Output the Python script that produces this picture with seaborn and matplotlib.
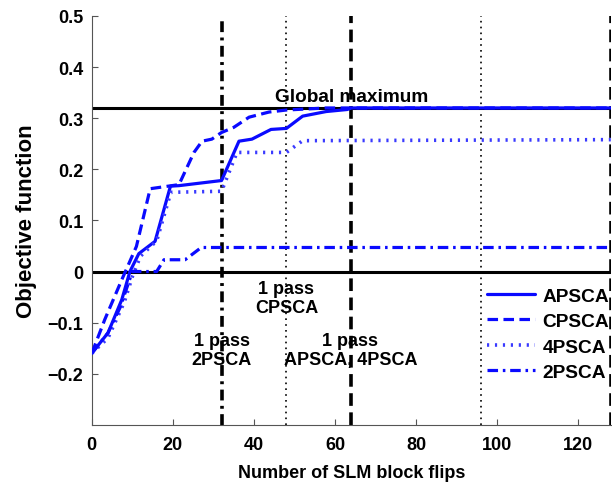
import matplotlib
matplotlib.use('Agg')

import pandas as pd
import matplotlib.pyplot as plt
import seaborn as sns

# Curves
ap_x = [0, 4, 7.4, 9.4, 11.6, 15.6, 19.4, 21.5, 32, 36.3, 39.5, 44.2, 48, 52, 57.8, 63, 64, 128]
ap_y = [-0.16, -0.12, -0.055, 0.0, 0.035, 0.059, 0.167, 0.168, 0.178, 0.255, 0.259, 0.278, 0.28, 0.304, 0.313, 0.317, 0.32, 0.32]

cp_x = [0, 3.2, 7.4, 11, 14.4, 21.5, 25.2, 27.2, 29.6, 32, 35, 38.8, 43.7, 48, 57.8, 128]
cp_y = [-0.16, -0.094, -0.016, 0.049, 0.162, 0.17, 0.233, 0.255, 0.259, 0.272, 0.282, 0.302, 0.312, 0.316, 0.32, 0.32]

p4_x = [0, 4, 8, 10, 12, 16, 19.5, 32, 35.8, 48, 52, 128]
p4_y = [-0.16, -0.13, -0.06, -0.01, 0.03, 0.06, 0.155, 0.157, 0.233, 0.233, 0.256, 0.258]

p2_x = [0, 4, 7, 10, 16, 17.8, 23, 27, 128]
p2_y = [-0.16, -0.12, -0.07, 0.0, 0.0, 0.023, 0.023, 0.047, 0.047]

global_max = 0.32
pass_marks = [32, 48, 64, 96, 128]

sns.set_style('ticks')
plt.rcParams['font.family'] = ['Liberation Sans', 'DejaVu Sans']
plt.rcParams['font.weight'] = 'bold'
plt.rcParams['text.color'] = 'black'
plt.rcParams['axes.labelcolor'] = 'black'
plt.rcParams['xtick.labelcolor'] = 'black'
plt.rcParams['ytick.labelcolor'] = 'black'

fig, ax = plt.subplots(figsize=(6.12, 4.85), dpi=100)
fig.subplots_adjust(left=0.150, right=0.998, bottom=0.122, top=0.965)

blue = '#0a0aff'
# Reference lines
ax.axhline(0, color='black', lw=2.2, zorder=1)
ax.axhline(global_max, color='black', lw=2.2, zorder=1)
vstyles = [((0, (3, 1.5, 0.8, 1.5)), 2.6), ((0, (1, 2.5)), 1.2), ((0, (3.5, 1.8)), 2.6),
           ((0, (1, 2.5)), 1.2), ((0, (3.5, 1.8)), 2.6)]
for xv, (ls, lw) in zip(pass_marks, vstyles):
    ax.axvline(xv, color='black', ls=ls, lw=lw, zorder=1)

sns.lineplot(x=ap_x, y=ap_y, ax=ax, color=blue, lw=2.3, label='APSCA', zorder=3)
sns.lineplot(x=cp_x, y=cp_y, ax=ax, color=blue, lw=2.3, label='CPSCA', zorder=3,
             linestyle=(0, (3.3, 1.7)))
sns.lineplot(x=p4_x, y=p4_y, ax=ax, color='#3a3aff', lw=2.6, label='4PSCA', zorder=3,
             linestyle=(0, (0.6, 1.6)))
sns.lineplot(x=p2_x, y=p2_y, ax=ax, color=blue, lw=2.3, label='2PSCA', zorder=3,
             linestyle=(0, (3.3, 1.5, 0.8, 1.5)))
for ln in ax.get_lines()[-4:]:
    ln.set_dash_capstyle('butt')

ax.set_xlim(0, 128)
ax.set_ylim(-0.3, 0.5)
ax.set_xticks([0, 20, 40, 60, 80, 100, 120])
ax.set_yticks([-0.2, -0.1, 0, 0.1, 0.2, 0.3, 0.4, 0.5])
ax.set_yticklabels(['\u22120.2', '\u22120.1', '0', '0.1', '0.2', '0.3', '0.4', '0.5'])
ax.tick_params(direction='in', labelsize=13, length=4, width=0.8, color='#555555',
               labelcolor='black', pad=6)
ax.tick_params(axis='x', pad=8)
for lab in ax.get_xticklabels() + ax.get_yticklabels():
    lab.set_fontweight('bold')
    lab.set_family(['Liberation Sans', 'DejaVu Sans'])
sns.despine(ax=ax)
for s in ['left', 'bottom']:
    ax.spines[s].set_color('#555555')
    ax.spines[s].set_linewidth(0.8)

ax.set_xlabel('Number of SLM block flips', fontsize=13, fontweight='bold', labelpad=8, color='black')
ax.set_ylabel('Objective function', fontsize=16, fontweight='bold', labelpad=8, color='black')

tk = dict(fontsize=13, fontweight='bold', ha='center', va='center', linespacing=1.15, color='black')
ax.text(64, 0.343, 'Global maximum', fontsize=13.7, fontweight='bold', ha='center', va='center',
        color='black')
ax.text(48, -0.052, '1 pass\nCPSCA', **tk)
ax.text(32, -0.153, '1 pass\n2PSCA', **tk)
ax.text(63.8, -0.153, '1 pass\nAPSCA, 4PSCA', **tk)

leg = ax.legend(loc='lower right', bbox_to_anchor=(1.03, 0.065), frameon=False,
                prop={'size': 13.8, 'weight': 'bold'}, handlelength=2.5,
                labelspacing=0.42, handletextpad=0.4, labelcolor='black')

plt.savefig('out.png', dpi=100)
